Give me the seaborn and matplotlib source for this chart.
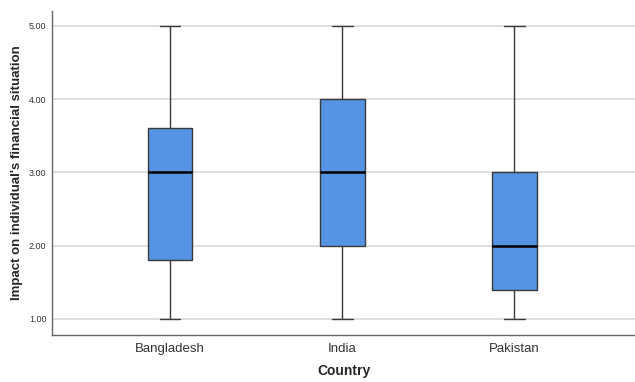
import matplotlib
matplotlib.use("Agg")
import matplotlib.pyplot as plt
import seaborn as sns
import pandas as pd

countries = ["Bangladesh", "India", "Pakistan"]
# five-number summaries per country: min, Q1, median, Q3, max
bangladesh = [1.0, 1.8, 3.0, 3.6, 5.0]
india = [1.0, 2.0, 3.0, 4.0, 5.0]
pakistan = [1.0, 1.4, 2.0, 3.0, 5.0]
yticks = [1.0, 2.0, 3.0, 4.0, 5.0]

df = pd.DataFrame({
    "Country": [c for c, v in zip(countries, [bangladesh, india, pakistan]) for _ in v],
    "Impact": bangladesh + india + pakistan,
})

sns.set_style("white")
plt.rcParams["font.family"] = ["Liberation Sans", "DejaVu Sans"]

fig = plt.figure(figsize=(6.35, 3.82), dpi=100)
ax = fig.add_axes([0.082, 0.123, 0.918, 0.848])

for y in yticks:
    ax.axhline(y, color="#d9d9d9", lw=1.2, zorder=0)

sns.boxplot(data=df, x="Country", y="Impact", order=countries, ax=ax,
            width=0.26, color="#5593e3", saturation=1, whis=1.5,
            linecolor="#3a3a3a", linewidth=1.0,
            medianprops=dict(color="black", linewidth=1.8),
            capwidths=0.12)

ax.set_xlim(-0.685, 2.70)
ax.set_ylim(0.78, 5.2)
ax.set_yticks(yticks)
ax.set_yticklabels([f"{v:.2f}" for v in yticks], fontsize=6.5, color="#333333")
ax.tick_params(axis="x", labelsize=9.5, colors="#333333", length=0, pad=6)
ax.tick_params(axis="y", length=0, pad=4)
for s in ["top", "right"]:
    ax.spines[s].set_visible(False)
for s in ["left", "bottom"]:
    ax.spines[s].set_color("#666666")
    ax.spines[s].set_linewidth(1.0)
ax.set_xlabel("Country", fontsize=10, fontweight="bold", labelpad=6)
ax.set_ylabel("Impact on individual's financial situation", fontsize=9.5, fontweight="bold", labelpad=4)

fig.savefig("out.png", dpi=100)
